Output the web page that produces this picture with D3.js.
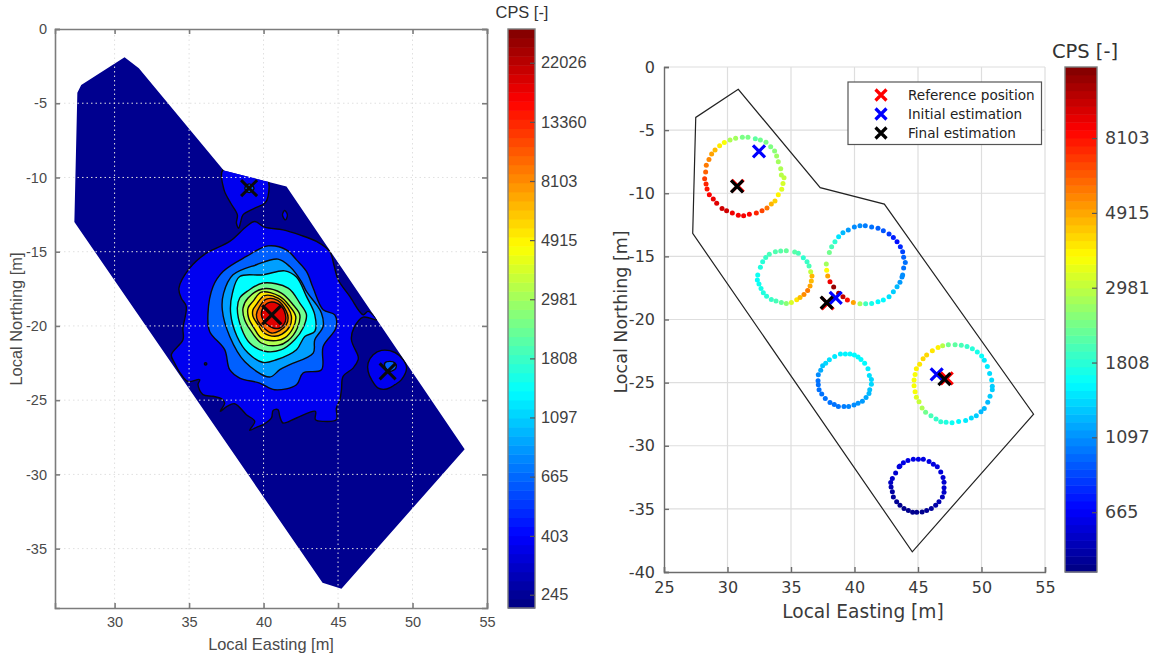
<!DOCTYPE html>
<html>
<head>
<meta charset="utf-8">
<script src="https://cdn.jsdelivr.net/npm/d3@7"></script>
<style>
  html, body { margin: 0; padding: 0; background: #fff; }
  svg { display: block; }
</style>
</head>
<body>
<svg id="chart" width="1157" height="659"></svg>
<script>
// ── DATA: LEFT MAP (contour polygons, [easting, northing]) ────
const siteOutline = [[30.67,-1.9],[31.63,-2.65],[37.33,-9.53],[41.54,-10.61],[53.5,-28.3],[45.23,-37.7],[43.96,-37.3],[27.3,-13.0],[27.5,-4.3],[27.76,-3.77]];

const contourBand1 = [[39.41,-12.97],[40.08,-13.35],[41.31,-13.53],[42.43,-13.87],[43.55,-14.31],[44.45,-14.99],[44.72,-15.88],[45.01,-16.89],[45.79,-18.01],[46.69,-19.25],[47.02,-19.02],[47.58,-19.59],[46.69,-19.41],[46.06,-20.15],[45.90,-20.93],[46.35,-22.05],[46.35,-22.28],[46.01,-22.84],[45.34,-23.40],[45.23,-24.30],[45.12,-24.97],[44.89,-25.53],[44.89,-26.31],[44.0,-26.43],[43.48,-26.31],[43.48,-25.75],[42.21,-26.20],[41.31,-26.54],[41.09,-26.09],[40.97,-25.64],[40.64,-25.69],[40.53,-26.20],[39.97,-26.65],[39.52,-26.83],[39.07,-27.03],[39.41,-26.43],[38.85,-25.98],[38.06,-25.24],[37.55,-25.42],[37.10,-25.75],[37.39,-25.19],[37.17,-24.90],[36.61,-24.74],[35.93,-24.63],[35.60,-23.96],[35.71,-23.62],[34.93,-23.74],[34.48,-23.29],[34.03,-22.5],[33.81,-21.94],[34.59,-20.93],[34.59,-20.15],[34.81,-18.69],[34.48,-18.13],[34.32,-17.45],[35.04,-16.11],[36.16,-15.10],[37.73,-14.31],[38.85,-13.30]];
const contourBand2 = [[40.30,-14.61],[41.53,-14.87],[42.21,-15.55],[42.88,-16.33],[43.33,-17.45],[44.0,-18.91],[44.78,-19.25],[44.85,-20.15],[44.0,-21.38],[43.89,-22.95],[42.65,-23.17],[42.21,-23.96],[40.75,-24.30],[39.74,-23.85],[38.40,-23.51],[37.73,-22.95],[37.39,-21.60],[36.38,-20.37],[36.27,-19.14],[36.61,-17.34],[37.28,-16.33],[38.85,-15.32]];
const contourBand3 = [[40.97,-15.50],[41.76,-16.0],[42.54,-17.01],[42.88,-17.68],[43.55,-18.57],[43.89,-19.14],[44.0,-20.03],[43.44,-20.93],[43.33,-21.83],[41.76,-22.61],[41.09,-22.95],[40.41,-23.44],[38.73,-22.39],[37.73,-20.71],[37.23,-18.91],[37.32,-17.79],[37.95,-16.56],[39.52,-15.88]];
const contourBand4 = [[41.42,-16.29],[42.21,-16.71],[42.88,-18.01],[43.44,-19.25],[43.44,-20.37],[42.77,-20.71],[42.21,-21.60],[40.86,-22.28],[39.97,-22.46],[38.96,-21.83],[38.22,-20.71],[37.79,-19.14],[37.91,-17.79],[38.40,-16.67],[39.97,-16.56]];
const contourBand5 = [[38.96,-17.63],[39.97,-17.11],[41.65,-17.45],[42.43,-18.46],[42.88,-19.24],[42.65,-20.14],[42.09,-20.93],[41.20,-21.60],[40.08,-21.71],[39.07,-21.15],[38.51,-20.14],[38.24,-18.80],[38.40,-18.12]];
const contourBand6 = [[38.96,-18.12],[39.97,-17.50],[41.20,-17.79],[41.98,-18.57],[42.43,-19.24],[42.27,-20.14],[41.65,-20.99],[40.97,-21.31],[39.85,-21.15],[39.18,-20.37],[38.73,-19.58],[38.62,-18.80]];
const contourBand7 = [[39.29,-18.35],[39.85,-17.72],[41.09,-18.01],[41.76,-18.68],[42.16,-19.36],[41.98,-20.14],[41.42,-20.81],[40.86,-20.99],[39.85,-20.81],[39.36,-20.14],[39.0,-19.47],[38.96,-18.80]];
const contourBand8 = [[39.52,-18.57],[40.03,-17.97],[40.97,-18.12],[41.65,-18.80],[41.87,-19.36],[41.76,-20.03],[41.24,-20.55],[40.75,-20.70],[40.03,-20.48],[39.63,-19.92],[39.29,-19.36],[39.29,-18.91]];
const contourBand9 = [[39.74,-18.68],[40.19,-18.19],[40.97,-18.30],[41.53,-19.02],[41.65,-19.47],[41.53,-19.92],[41.09,-20.32],[40.53,-20.48],[40.03,-20.14],[39.63,-19.69],[39.52,-19.24]];
const contourBand10 = [[40.03,-18.68],[40.53,-18.39],[41.20,-18.68],[41.47,-19.24],[41.47,-19.69],[41.09,-20.14],[40.64,-20.14],[40.19,-19.87],[40.03,-19.69],[39.85,-19.24]];

const topBlob = [[37.28,-9.49],[37.35,-10.84],[37.80,-11.74],[38.24,-12.52],[38.18,-13.08],[38.33,-13.42],[38.47,-12.97],[38.62,-12.52],[39.41,-12.07],[40.08,-11.74],[40.30,-11.29],[40.19,-9.94]];
const topBlobCore = [[38.74,-10.73],[39.03,-10.43],[39.36,-10.73],[39.03,-11.02]];
const smallRing = [[41.27,-12.52],[41.42,-12.23],[41.60,-12.52],[41.47,-12.86]];
const rightBlob = [[47.02,-22.50],[47.36,-21.94],[47.92,-21.65],[48.82,-21.79],[49.38,-22.28],[49.60,-22.84],[49.26,-23.62],[48.82,-23.96],[48.26,-24.25],[47.70,-24.19],[47.25,-23.62],[47.02,-23.06]];
const rightBlobCore = [[48.14,-22.50],[48.48,-22.39],[48.82,-22.50],[48.88,-22.84],[48.48,-23.06],[48.19,-22.84]];
const holeDot = [[36.05,-22.5],[36.17,-22.5],[36.17,-22.62],[36.05,-22.62]];

const leftCrosses = [[39.03,-10.72],[48.33,-23.06]];
const leftPeakCross = [[40.55,-19.25]];

// ── DATA: RIGHT MAP (walk circles, [easting, northing, cps]) ──
const buildingOutline = [[30.85,-1.77],[27.5,-3.99],[27.26,-13.18],[44.55,-38.4],[54.1,-27.5],[42.35,-10.86],[37.3,-9.56]];

const circleA = [[31.61,-5.57,2370],[31.17,-5.57,2370],[30.64,-5.65,2700],[30.20,-5.78,2800],[29.75,-5.99,3600],[29.38,-6.23,3900],[29.02,-6.58,4600],[28.75,-6.89,5000],[28.54,-7.32,5460],[28.33,-7.79,5700],[28.28,-8.32,6200],[28.20,-8.85,7000],[28.31,-9.27,7600],[28.39,-9.67,8000],[28.57,-10.12,8500],[28.88,-10.46,9000],[29.15,-10.80,9500],[29.57,-11.20,10000],[29.93,-11.38,10000],[30.38,-11.57,9000],[30.85,-11.75,8800],[31.27,-11.78,8800],[31.72,-11.67,8500],[32.27,-11.57,7600],[32.72,-11.38,6800],[33.11,-11.17,5800],[33.45,-10.86,4700],[33.74,-10.62,4300],[34.0,-10.12,3800],[34.27,-9.69,3300],[34.37,-9.22,3200],[34.45,-8.77,3000],[34.24,-8.56,2900],[34.19,-8.06,2800],[34.0,-7.50,2700],[33.87,-7.05,2650],[33.71,-6.66,2500],[33.40,-6.31,2400],[33.03,-5.97,2370],[32.59,-5.78,2300],[32.19,-5.68,2150]];
const circleB = [[34.63,-14.55,2200],[34.19,-14.58,2100],[33.77,-14.63,2050],[33.29,-14.84,2000],[33.01,-15.08,1900],[32.77,-15.42,1800],[32.59,-15.87,1750],[32.38,-16.48,1650],[32.35,-16.88,1600],[32.48,-17.19,1650],[32.64,-17.54,1700],[32.82,-17.88,1750],[33.08,-18.15,1800],[33.45,-18.41,1900],[33.82,-18.54,2000],[34.24,-18.65,2200],[34.63,-18.73,2500],[35.03,-18.65,3200],[35.45,-18.44,4000],[35.71,-18.25,4600],[36.02,-18.01,5400],[36.31,-17.70,5700],[36.50,-17.35,5000],[36.60,-16.96,4600],[36.65,-16.56,4700],[36.55,-16.22,3000],[36.42,-15.77,2000],[36.26,-15.42,1900],[35.97,-15.11,1850],[35.58,-14.76,2000],[35.29,-14.66,2100]];
const circleC = [[40.43,-12.57,1080],[40.85,-12.57,1030],[41.35,-12.68,990],[41.85,-12.78,935],[42.27,-12.97,900],[42.72,-13.23,820],[43.06,-13.50,750],[43.35,-13.84,710],[43.61,-14.24,780],[43.79,-14.63,850],[43.87,-15.06,935],[44.0,-15.48,990],[43.87,-15.93,990],[43.79,-16.48,1080],[43.74,-16.64,1080],[43.58,-17.04,1135],[43.35,-17.41,1257],[43.06,-17.80,1340],[42.72,-18.20,1430],[42.27,-18.46,1561],[41.85,-18.59,1561],[41.35,-18.73,1700],[40.88,-18.75,1950],[40.43,-18.75,2700],[39.91,-18.65,5000],[39.44,-18.46,8270],[39.09,-18.20,10500],[38.75,-17.93,12000],[38.36,-17.43,12000],[38.07,-17.01,9000],[37.89,-16.56,5000],[37.81,-16.09,3700],[37.78,-15.61,2700],[38.02,-14.69,2300],[38.20,-14.24,2000],[38.46,-13.84,1850],[38.75,-13.44,1450],[39.09,-13.13,1257],[39.51,-12.92,1135],[39.99,-12.68,1080]];
const circleD = [[38.89,-22.74,1500],[39.28,-22.74,1530],[39.65,-22.74,1550],[39.99,-22.82,1561],[40.28,-22.98,1561],[40.51,-23.17,1561],[40.80,-23.46,1561],[41.06,-23.91,1500],[41.17,-24.43,1430],[41.33,-24.75,1387],[41.33,-25.12,1387],[41.20,-25.57,1300],[41.14,-25.86,1257],[40.91,-26.18,1190],[40.62,-26.47,1135],[40.28,-26.63,1110],[39.96,-26.78,1080],[39.54,-26.89,1060],[39.17,-26.89,1030],[38.73,-26.89,1000],[38.41,-26.73,990],[38.07,-26.57,990],[37.70,-26.26,990],[37.42,-25.91,990],[37.21,-25.57,990],[37.15,-25.17,990],[37.13,-24.86,990],[37.15,-24.38,1080],[37.34,-24.01,1200],[37.49,-23.67,1300],[37.73,-23.46,1387],[38.02,-23.19,1430],[38.44,-22.93,1480]];
const circleE = [[47.39,-22.0,2300],[47.92,-22.0,2158],[48.41,-22.03,2005],[48.86,-22.14,1881],[49.28,-22.32,1790],[49.67,-22.58,1697],[50.01,-22.90,1610],[50.22,-23.22,1485],[50.46,-23.72,1485],[50.64,-24.28,1410],[50.80,-24.80,1410],[50.85,-25.28,1340],[50.85,-25.57,1340],[50.67,-26.07,1340],[50.49,-26.55,1257],[50.22,-27.05,1257],[49.96,-27.31,1257],[49.59,-27.63,1340],[49.20,-27.81,1410],[48.75,-28.0,1485],[48.20,-28.08,1561],[47.68,-28.18,1650],[47.21,-28.13,1740],[46.79,-28.10,1840],[46.42,-27.89,1881],[46.02,-27.63,2005],[45.60,-27.34,2300],[45.32,-27.0,2800],[45.08,-26.52,3040],[44.87,-26.15,3308],[44.77,-25.73,3590],[44.69,-25.25,3590],[44.69,-24.80,3590],[44.77,-24.35,3590],[44.87,-23.91,3850],[45.13,-23.54,3975],[45.40,-23.11,4180],[45.68,-22.82,4180],[46.13,-22.48,3975],[46.58,-22.21,3850],[46.94,-22.08,2900]];
const circleF = [[44.63,-31.06,624],[45.03,-31.06,624],[45.42,-31.06,620],[45.87,-31.25,620],[46.21,-31.46,614],[46.52,-31.67,614],[46.79,-32.07,600],[46.97,-32.52,590],[47.05,-32.89,585],[47.05,-33.33,585],[47.05,-33.68,570],[46.92,-34.05,550],[46.65,-34.44,527],[46.39,-34.71,510],[46.05,-34.97,490],[45.68,-35.13,480],[45.32,-35.24,470],[44.90,-35.26,470],[44.58,-35.26,470],[44.24,-35.13,470],[43.90,-34.97,470],[43.58,-34.71,470],[43.32,-34.44,480],[43.06,-34.05,490],[42.98,-33.65,500],[42.88,-33.26,530],[42.85,-32.91,556],[42.98,-32.6,570],[43.24,-32.15,585],[43.51,-31.67,600],[43.58,-31.6,610],[43.85,-31.35,624],[44.21,-31.17,624]];

const referenceMarks = [[30.8,-9.42],[37.88,-18.72],[47.26,-24.67]];
const initialMarks = [[32.48,-6.68],[38.52,-18.28],[46.47,-24.35]];
const finalMarks = [[30.75,-9.46],[37.81,-18.67],[47.08,-24.72]];

// ── DATA: TICKS AND LABELS ────────────────────────────────────
const easting = [30, 35, 40, 45, 50, 55];
const eastingRight = [25, 30, 35, 40, 45, 50, 55];
const northingLeft = [0, -5, -10, -15, -20, -25, -30, -35];
const northingRight = [0, -5, -10, -15, -20, -25, -30, -35, -40];
const cpsTicksLeft = [22026, 13360, 8103, 4915, 2981, 1808, 1097, 665, 403, 245];
const cpsTicksRight = [8103, 4915, 2981, 1808, 1097, 665];
const legendLabels = ["Reference position", "Initial estimation", "Final estimation"];
const bandColors = ["#0000f0", "#0060ff", "#009fff", "#00ffff", "#70ff90", "#b0ff50", "#ffe800", "#ffa800", "#ff6000", "#e00000"];
const bands = [contourBand1, contourBand2, contourBand3, contourBand4, contourBand5, contourBand6, contourBand7, contourBand8, contourBand9, contourBand10];

// ── STEP 1: SCALES ────────────────────────────────────────────
const svg = d3.select("#chart");

const xL = d3.scaleLinear().domain([26, 55]).range([55, 487]);
const yL = d3.scaleLinear().domain([-39, 0]).range([608, 29]);
const cbarL = d3.scaleLog().domain([219, 29300]).range([608, 29]);

const xR = d3.scaleLinear().domain([25, 55]).range([664, 1045]);
const yR = d3.scaleLinear().domain([-40, 0]).range([572, 67]);
const cbarR = d3.scaleLog().domain([446, 13030]).range([572, 67]);

// MATLAB style jet, t in 0..1
const clamp01 = v => Math.max(0, Math.min(1, v));
const jet = t => d3.rgb(
  255 * clamp01(1.5 - Math.abs(4 * t - 3)),
  255 * clamp01(1.5 - Math.abs(4 * t - 2)),
  255 * clamp01(1.5 - Math.abs(4 * t - 1))
).formatHex();

const leftFont = "'Liberation Sans', Arial, sans-serif";
const rightFont = "'DejaVu Sans', Verdana, sans-serif";

// ── STEP 2: LEFT MAP ──────────────────────────────────────────
const lineL = d3.line().x(d => xL(d[0])).y(d => yL(d[1]));
const smoothL = d3.line().x(d => xL(d[0])).y(d => yL(d[1])).curve(d3.curveCatmullRomClosed.alpha(0.5));

svg.append("defs").append("clipPath").attr("id", "site-clip")
  .append("path").attr("d", lineL(siteOutline) + "Z");

const mapL = svg.append("g");
mapL.append("path").attr("d", lineL(siteOutline) + "Z").attr("fill", "#00008f");

const contours = mapL.append("g")
  .attr("clip-path", "url(#site-clip)")
  .attr("stroke", "#0a0a0a")
  .attr("stroke-width", 1.4);

const addBand = (pts, color) => contours.append("path").attr("d", smoothL(pts)).attr("fill", color);

addBand(topBlob, bandColors[0]);
addBand(topBlobCore, bandColors[1]);
addBand(smallRing, bandColors[0]);
addBand(rightBlob, bandColors[0]);
addBand(rightBlobCore, bandColors[1]);
bands.forEach((pts, i) => addBand(pts, bandColors[i]));
addBand(holeDot, "#00008f");

// Grid sits on top of the filled contours
const gridL = svg.append("g").attr("stroke", "#e0e0e0").attr("stroke-width", 1).attr("stroke-dasharray", "1.5 3");
gridL.selectAll(".v").data(easting.slice(0, -1)).join("line").attr("class", "v")
  .attr("x1", d => xL(d)).attr("x2", d => xL(d)).attr("y1", yL(-39)).attr("y2", yL(0));
gridL.selectAll(".h").data(northingLeft.slice(1)).join("line").attr("class", "h")
  .attr("x1", xL(26)).attr("x2", xL(55)).attr("y1", d => yL(d)).attr("y2", d => yL(d));

// ── STEP 3: CROSS MARKERS ─────────────────────────────────────
const drawCross = (g, pts, x, y, arm, width, color) => {
  g.selectAll(null).data(pts).join("path")
    .attr("d", d => {
      const cx = x(d[0]), cy = y(d[1]);
      return `M${cx - arm},${cy - arm}L${cx + arm},${cy + arm}M${cx - arm},${cy + arm}L${cx + arm},${cy - arm}`;
    })
    .attr("stroke", color)
    .attr("stroke-width", width)
    .attr("fill", "none");
};
const crossesL = svg.append("g");
drawCross(crossesL, leftCrosses, xL, yL, 8, 3, "#0a0a0a");
drawCross(crossesL, leftPeakCross, xL, yL, 9.5, 3.2, "#0a0a0a");

// ── STEP 4: LEFT AXES ─────────────────────────────────────────
const styleAxis = (g, font, size, color, lineColor, lineWidth) => {
  g.selectAll("text").style("font-family", font).style("font-size", size + "px").attr("fill", color);
  g.selectAll("line").attr("stroke", lineColor).attr("stroke-width", lineWidth);
  g.selectAll(".domain").attr("stroke", lineColor).attr("stroke-width", lineWidth);
};

const leftAxes = svg.append("g");
[
  [d3.axisBottom(xL).tickValues(easting).tickSize(-5).tickPadding(9), 0, 608],
  [d3.axisTop(xL).tickValues(easting).tickSize(-5).tickFormat(""), 0, 29],
  [d3.axisLeft(yL).tickValues(northingLeft).tickSize(-5).tickPadding(8).tickFormat(String), 55, 0],
  [d3.axisRight(yL).tickValues(northingLeft).tickSize(-5).tickFormat(""), 487, 0]
].forEach(([axis, tx, ty]) => {
  const g = leftAxes.append("g").attr("transform", `translate(${tx},${ty})`).call(axis);
  styleAxis(g, leftFont, 14.5, "#4a4a4a", "#7c7c7c", 1.6);
});

svg.append("text").attr("x", 271).attr("y", 650).attr("text-anchor", "middle")
  .style("font-family", leftFont).style("font-size", "16.4px").attr("fill", "#4a4a4a")
  .text("Local Easting [m]");
svg.append("text").attr("transform", "translate(22,319) rotate(-90)").attr("text-anchor", "middle")
  .style("font-family", leftFont).style("font-size", "16.4px").attr("fill", "#4a4a4a")
  .text("Local Northing [m]");

// ── STEP 5: COLOURBARS ────────────────────────────────────────
const drawColorbar = (scale, x0, x1, ticks, font, fontSize, titleX, titleY, titleSize, padding) => {
  const [top, bottom] = [scale.range()[1], scale.range()[0]];
  const steps = d3.range(64);
  const bandH = (bottom - top) / 64;
  const bar = svg.append("g");
  bar.selectAll("rect").data(steps).join("rect")
    .attr("x", x0)
    .attr("width", x1 - x0)
    .attr("y", i => bottom - (i + 1) * bandH)
    .attr("height", bandH + 0.5)
    .attr("fill", i => jet((i + 0.5) / 64));
  bar.append("rect").attr("x", x0).attr("y", top).attr("width", x1 - x0).attr("height", bottom - top)
    .attr("fill", "none").attr("stroke", "#7c7c7c").attr("stroke-width", 1.4);
  const axis = d3.axisRight(scale).tickValues(ticks).tickFormat(d3.format("d")).tickSize(-5).tickPadding(padding);
  const g = svg.append("g").attr("transform", `translate(${x1},0)`).call(axis);
  styleAxis(g, font, fontSize, "#3f3f3f", "#555", 1.2);
  g.select(".domain").remove();
  svg.append("text").attr("x", titleX).attr("y", titleY).attr("text-anchor", "middle")
    .style("font-family", font).style("font-size", titleSize + "px").attr("fill", "#333")
    .text("CPS [-]");
};
drawColorbar(cbarL, 508, 535, cpsTicksLeft, leftFont, 16.4, 522, 18, 16.4, 6);
drawColorbar(cbarR, 1065, 1097, cpsTicksRight, rightFont, 17.5, 1085, 58, 19.5, 8);

// ── STEP 6: RIGHT MAP ─────────────────────────────────────────
const gridR = svg.append("g").attr("stroke", "#dedede").attr("stroke-width", 1.2);
gridR.selectAll(".v").data(eastingRight.slice(1)).join("line").attr("class", "v")
  .attr("x1", d => xR(d)).attr("x2", d => xR(d)).attr("y1", yR(-40)).attr("y2", yR(0));
gridR.selectAll(".h").data(northingRight.slice(0, -1)).join("line").attr("class", "h")
  .attr("x1", xR(25)).attr("x2", xR(55)).attr("y1", d => yR(d)).attr("y2", d => yR(d));

[
  [d3.axisBottom(xR).tickValues(eastingRight).tickSize(-5).tickPadding(10), 0, 572],
  [d3.axisLeft(yR).tickValues(northingRight).tickSize(-5).tickPadding(9).tickFormat(String), 664, 0]
].forEach(([axis, tx, ty]) => {
  const g = svg.append("g").attr("transform", `translate(${tx},${ty})`).call(axis);
  styleAxis(g, rightFont, 16, "#3a3a3a", "#6c6c6c", 1.4);
});

const lineR = d3.line().x(d => xR(d[0])).y(d => yR(d[1]));
svg.append("path").attr("d", lineR(buildingOutline) + "Z")
  .attr("fill", "none").attr("stroke", "#222").attr("stroke-width", 1.2);

const cpsT = d3.scaleLog().domain([446, 13030]).range([0, 1]).clamp(true);
const dots = svg.append("g");
[circleA, circleB, circleC, circleD, circleE, circleF].forEach(ring => {
  dots.append("g").selectAll("circle").data(ring).join("circle")
    .attr("cx", d => xR(d[0]))
    .attr("cy", d => yR(d[1]))
    .attr("r", 2.5)
    .attr("fill", d => jet(cpsT(d[2])));
});

const marks = svg.append("g");
drawCross(marks, referenceMarks, xR, yR, 6, 3.2, "#ff0000");
drawCross(marks, initialMarks, xR, yR, 6, 3.2, "#0000ff");
drawCross(marks, finalMarks, xR, yR, 6, 3.2, "#000000");

svg.append("text").attr("x", 863).attr("y", 618).attr("text-anchor", "middle")
  .style("font-family", rightFont).style("font-size", "18.6px").attr("fill", "#3a3a3a")
  .text("Local Easting [m]");
svg.append("text").attr("transform", "translate(627,312) rotate(-90)").attr("text-anchor", "middle")
  .style("font-family", rightFont).style("font-size", "17.5px").attr("fill", "#3a3a3a")
  .text("Local Northing [m]");

// ── STEP 7: LEGEND ────────────────────────────────────────────
const legend = svg.append("g");
legend.append("rect").attr("x", 848).attr("y", 82).attr("width", 193.5).attr("height", 62.5)
  .attr("fill", "#fff").attr("stroke", "#555").attr("stroke-width", 1.2);
const legendColors = ["#ff0000", "#0000ff", "#000000"];
const legendRow = d3.scalePoint().domain(legendLabels).range([95, 133]);
legendLabels.forEach((label, i) => {
  const y = legendRow(label);
  legend.append("path")
    .attr("d", `M875.5,${y - 5.5}L886.5,${y + 5.5}M875.5,${y + 5.5}L886.5,${y - 5.5}`)
    .attr("stroke", legendColors[i]).attr("stroke-width", 3.2).attr("fill", "none");
  legend.append("text").attr("x", 908).attr("y", y + 4.5)
    .style("font-family", rightFont).style("font-size", "13.6px").attr("fill", "#222")
    .text(label);
});
</script>
</body>
</html>
